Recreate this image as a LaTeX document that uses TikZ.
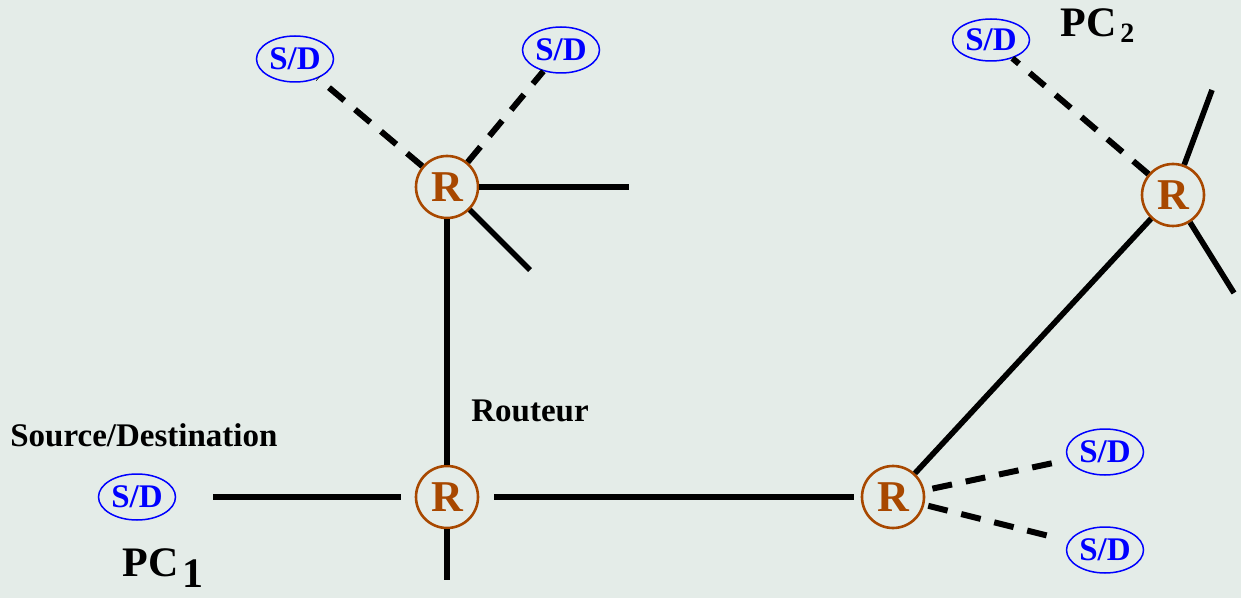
\documentclass[tikz,border=0pt]{standalone}
\usepackage{fontspec}
\setmainfont{Liberation Serif}
\usetikzlibrary{shapes.geometric}
\definecolor{fondgris}{RGB}{228,236,232}
\definecolor{routbrun}{RGB}{168,72,0}
\begin{document}
\begin{tikzpicture}[x=0.5pt,y=-0.5pt]
\tikzstyle{routeur}=[circle,draw=routbrun,line width=1.3pt,minimum size=31pt,inner sep=0pt,text=routbrun,font=\fontsize{22}{22}\selectfont\bfseries]
\tikzstyle{sd}=[ellipse,draw=blue,line width=0.75pt,minimum width=38.5pt,minimum height=23pt,inner sep=0pt,text=blue,font=\fontsize{16.5}{16.5}\selectfont\bfseries]
\tikzstyle{lien}=[line width=2.8pt]
\tikzstyle{acces}=[line width=3pt,dash pattern=on 10pt off 7pt]
\tikzstyle{etiq}=[inner sep=0pt,font=\fontsize{16.5}{16.5}\selectfont\bfseries]
\tikzstyle{pc}=[inner sep=0pt,font=\fontsize{21}{21}\selectfont\bfseries]
\fill [fondgris] (0,0) rectangle (1241,598);
\useasboundingbox (0,0) rectangle (1241,598);
\node [routeur] (r1) at (447,187) {R};
\node [routeur] (r2) at (447,497) {R};
\node [routeur] (r3) at (893,497) {R};
\node [routeur] (r4) at (1173,195) {R};
\node [sd] (sd1) at (295,59) {S/D};
\node [sd] (sd2) at (561,50) {S/D};
\node [sd,minimum height=21pt] (sd3) at (991,40) {S/D};
\node [sd] (sd4) at (137,497) {S/D};
\node [sd] (sd5) at (1105,452) {S/D};
\node [sd] (sd6) at (1105,550) {S/D};
\node [etiq,anchor=base west] (src) at (10,446) {Source/Destination};
\node [etiq,anchor=base west] (rout) at (471,422) {Routeur};
\node [pc,anchor=base west] (pc1) at (122,576) {PC\hspace{2pt}\raisebox{-5.5pt}{1}};
\node [pc,anchor=base west] (pc2) at (1060,37) {PC\hspace{2pt}\raisebox{-3pt}{\fontsize{14}{14}\selectfont 2}};
\coordinate (e1) at (629,187);
\coordinate (e2) at (530,270);
\coordinate (e3) at (447,580);
\coordinate (e4) at (1212,90);
\coordinate (e5) at (1234,293);
\draw [lien,shorten <=18.5pt,shorten >=7pt] (sd4) -- (r2);
\draw [lien,shorten <=7.5pt,shorten >=3.5pt] (r2) -- (r3);
\draw [lien] (r2) -- (r1);
\draw [lien] (r2) -- (e3);
\draw [lien] (r1) -- (e1);
\draw [lien] (r1) -- (e2);
\draw [lien] (r3) -- (r4);
\draw [lien] (r4) -- (e4);
\draw [lien] (r4) -- (e5);
\draw [acces] (r1) -- (sd1);
\draw [acces] (r1) -- (sd2);
\draw [acces] (r4) -- (sd3);
\draw [acces,shorten <=4pt,shorten >=7pt] (r3) -- (sd5);
\draw [acces,shorten <=2pt,shorten >=9pt] (r3) -- (sd6);
\end{tikzpicture}
\end{document}
